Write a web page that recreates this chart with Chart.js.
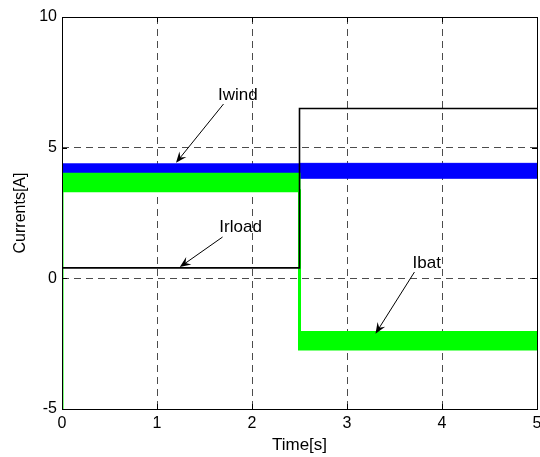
<!DOCTYPE html>
<html>
<head>
<meta charset="utf-8">
<script src="https://cdn.jsdelivr.net/npm/chart.js@4.4.1/dist/chart.umd.min.js"></script>
<style>
  html, body { margin: 0; padding: 0; background: #fff; }
  #wrap { width: 540px; height: 457px; }
</style>
</head>
<body>
<div id="wrap"><canvas id="currents"></canvas></div>
<script>
// Switching instants of the simulation [s]
const stepTimes = [0, 2.5, 5];

// Iwind ripple band (upper / lower edge) before and after the step [A]
const iwindHigh = [4.38, 4.4];
const iwindLow = [4.0, 3.83];

// Ibat ripple band, starts from -5 A at t = 0
const ibatHigh = [4.0, -2.05];
const ibatLow = [3.35, -2.7];
const ibatStart = -5;

// Irload steps up at 2.5 s
const irload = [0.4, 6.5];
const irloadStart = 0;

// Text labels with arrows: [text, textX, textY, tailX, tailY, headX, headY]
const notes = [
  ['Iwind', 1.85, 7.0, 1.70, 6.67, 1.20, 4.42],
  ['Irload', 1.88, 1.97, 1.69, 1.58, 1.24, 0.43],
  ['Ibat', 3.84, 0.56, 3.71, 0.24, 3.30, -2.12],
];

const FONT = "'Liberation Sans', Arial, Helvetica, sans-serif";

// Expand per-interval levels into a step polyline
function stepPoints(levels, start) {
  const pts = [];
  if (start !== undefined) pts.push({ x: stepTimes[0], y: start });
  levels.forEach((v, i) => {
    pts.push({ x: stepTimes[i], y: v });
    pts.push({ x: stepTimes[i + 1], y: v });
  });
  return pts;
}

// Box around the plot, inward tick marks, labels with arrows
const matlabAxes = {
  id: 'matlabAxes',
  afterDatasetsDraw(chart) {
    const { ctx, chartArea: a, scales } = chart;
    const xs = scales.x, ys = scales.y;
    ctx.save();
    ctx.strokeStyle = '#000';
    ctx.lineWidth = 1;
    ctx.setLineDash([]);
    ctx.beginPath();
    xs.ticks.forEach((t) => {
      const px = Math.round(xs.getPixelForValue(t.value)) + 0.5;
      ctx.moveTo(px, a.bottom); ctx.lineTo(px, a.bottom - 5);
      ctx.moveTo(px, a.top); ctx.lineTo(px, a.top + 5);
    });
    ys.ticks.forEach((t) => {
      const py = Math.round(ys.getPixelForValue(t.value)) + 0.5;
      ctx.moveTo(a.left, py); ctx.lineTo(a.left + 5, py);
      ctx.moveTo(a.right, py); ctx.lineTo(a.right - 5, py);
    });
    ctx.stroke();
    ctx.strokeRect(Math.round(a.left) + 0.5, Math.round(a.top) + 0.5,
      Math.round(a.right - a.left), Math.round(a.bottom - a.top));

    ctx.fillStyle = '#000';
    ctx.font = '17px ' + FONT;
    ctx.textAlign = 'center';
    ctx.textBaseline = 'middle';
    notes.forEach(([text, tx, ty, x0, y0, x1, y1]) => {
      ctx.fillText(text, xs.getPixelForValue(tx), ys.getPixelForValue(ty));
      const p0x = xs.getPixelForValue(x0), p0y = ys.getPixelForValue(y0);
      const p1x = xs.getPixelForValue(x1), p1y = ys.getPixelForValue(y1);
      const ang = Math.atan2(p1y - p0y, p1x - p0x);
      ctx.beginPath();
      ctx.moveTo(p0x, p0y);
      ctx.lineTo(p1x - 6 * Math.cos(ang), p1y - 6 * Math.sin(ang));
      ctx.stroke();
      // notched arrowhead
      const len = 11, half = 4.5;
      const bx = p1x - len * Math.cos(ang), by = p1y - len * Math.sin(ang);
      const nx = -Math.sin(ang), ny = Math.cos(ang);
      ctx.beginPath();
      ctx.moveTo(p1x, p1y);
      ctx.lineTo(bx + nx * half, by + ny * half);
      ctx.lineTo(p1x - 7 * Math.cos(ang), p1y - 7 * Math.sin(ang));
      ctx.lineTo(bx - nx * half, by - ny * half);
      ctx.closePath();
      ctx.fill();
    });
    ctx.restore();
  },
};

const bandLine = (color, pts, fill, width) => ({
  data: pts,
  borderColor: color,
  backgroundColor: color,
  borderWidth: width,
  pointRadius: 0,
  tension: 0,
  fill: fill,
});

new Chart(document.getElementById('currents'), {
  type: 'line',
  data: {
    datasets: [
      { ...bandLine('#0000ff', stepPoints(iwindHigh), false, 1), label: 'Iwind', order: 2 },
      { ...bandLine('#0000ff', stepPoints(iwindLow), '-1', 1), label: 'Iwind low', order: 2 },
      { ...bandLine('#00ff00', stepPoints(ibatHigh), false, 2), label: 'Ibat', order: 1 },
      { ...bandLine('#00ff00', stepPoints(ibatLow, ibatStart), '-1', 3), label: 'Ibat low', order: 1 },
      {
        label: 'Irload',
        data: stepPoints(irload, irloadStart),
        borderColor: '#000',
        borderWidth: 1.6,
        pointRadius: 0,
        tension: 0,
        fill: false,
        order: 0,
      },
    ],
  },
  options: {
    responsive: true,
    maintainAspectRatio: false,
    animation: false,
    layout: { padding: { top: 17, right: 3, left: 0, bottom: 0 } },
    plugins: {
      legend: { display: false },
      tooltip: { enabled: false },
    },
    scales: {
      x: {
        type: 'linear',
        min: 0,
        max: 5,
        afterFit: (s) => { s.height = 48; s.paddingLeft = 0; s.paddingRight = 0; },
        ticks: { stepSize: 1, padding: 5, color: '#000', font: { size: 16, family: FONT } },
        grid: { color: 'rgba(0,0,0,0.7)', lineWidth: 1, drawTicks: false },
        border: { display: false, dash: [7, 5] },
        title: {
          display: true, text: 'Time[s]', color: '#000',
          font: { size: 17, family: FONT }, padding: { top: 0, bottom: 1 },
        },
      },
      y: {
        min: -5,
        max: 10,
        afterFit: (s) => { s.width = 62; s.paddingTop = 0; s.paddingBottom = 0; },
        ticks: { stepSize: 5, padding: 5, color: '#000', font: { size: 16, family: FONT } },
        grid: { color: 'rgba(0,0,0,0.7)', lineWidth: 1, drawTicks: false },
        border: { display: false, dash: [7, 5] },
        title: {
          display: true, text: 'Currents[A]', color: '#000',
          font: { size: 16, family: FONT }, padding: { top: 11, bottom: 0 },
        },
      },
    },
  },
  plugins: [matlabAxes],
});
</script>
</body>
</html>
